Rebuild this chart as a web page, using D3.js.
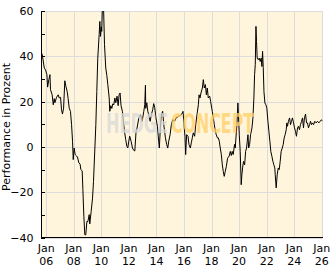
<!DOCTYPE html>
<html><head><meta charset="utf-8">
<script src="https://cdn.jsdelivr.net/npm/d3@7"></script>
<style>html,body{margin:0;padding:0;background:#fff;}svg{display:block;}</style>
</head><body>
<script>
// Data: decimal year and performance (%)
const years = [2005.61,2005.71,2005.86,2005.95,2006.05,2006.10,2006.19,2006.27,2006.31,2006.43,2006.51,2006.58,2006.63,2006.75,2006.87,2006.94,2007.04,2007.11,2007.18,2007.26,2007.35,2007.43,2007.52,2007.59,2007.67,2007.76,2007.84,2007.91,2007.96,2008.03,2008.10,2008.20,2008.27,2008.37,2008.46,2008.51,2008.61,2008.66,2008.73,2008.80,2008.87,2008.95,
2009.02,2009.12,2009.16,2009.26,2009.36,2009.43,2009.50,2009.60,2009.67,2009.74,2009.84,2009.89,2009.94,2009.99,2010.03,2010.08,2010.15,2010.23,2010.32,2010.40,2010.47,2010.57,2010.61,2010.69,2010.76,2010.83,2010.90,2010.98,2011.05,2011.14,2011.22,2011.29,2011.36,2011.43,2011.53,2011.60,2011.68,2011.77,2011.85,2011.92,2011.99,2012.06,2012.16,2012.26,2012.35,
2012.43,2012.52,2012.59,2012.72,2012.84,2012.96,2013.08,2013.15,2013.20,2013.22,2013.30,2013.37,2013.44,2013.54,2013.63,2013.73,2013.80,2013.87,2013.96,2014.07,2014.16,2014.21,2014.28,2014.36,2014.45,2014.53,2014.65,2014.74,2014.82,2014.89,2014.99,2015.08,2015.18,2015.32,2015.42,2015.61,2015.81,
2015.93,2016.00,2016.07,2016.12,2016.19,2016.29,2016.36,2016.46,2016.53,2016.60,2016.67,2016.77,2016.85,2016.94,2017.04,2017.09,2017.16,2017.23,2017.33,2017.40,2017.47,2017.55,2017.62,2017.69,2017.76,2017.86,2017.93,2018.01,2018.05,2018.13,2018.20,2018.27,2018.34,2018.42,2018.49,2018.56,2018.63,2018.71,2018.78,2018.85,2018.92,2018.99,2019.07,
2019.16,2019.28,2019.36,2019.43,2019.50,2019.57,2019.67,2019.72,2019.77,2019.84,2019.91,2019.96,2020.01,2020.08,2020.15,2020.20,2020.25,2020.32,2020.40,2020.47,2020.54,2020.59,2020.64,2020.69,2020.76,2020.83,2020.93,2021.00,2021.07,2021.12,2021.17,2021.22,2021.26,2021.31,2021.39,2021.46,2021.53,2021.60,2021.65,2021.70,2021.75,2021.80,2021.87,2021.94,2022.01,2022.09,2022.16,2022.23,2022.30,2022.38,2022.45,2022.52,2022.59,
2022.62,2022.69,2022.76,2022.84,2022.91,2022.98,2023.05,2023.13,2023.20,2023.27,2023.34,2023.42,2023.46,2023.51,2023.58,2023.66,2023.73,2023.80,2023.87,2023.95,2024.02,2024.09,2024.16,2024.24,2024.31,2024.38,2024.45,2024.53,2024.60,2024.67,2024.74,2024.82,2024.89,2024.96,2025.03,2025.11,2025.18,2025.25,2025.32,2025.40,2025.49,2025.59,2025.69,2025.78,2025.88,2025.98,2026.05];
const perf = [42.2,40.7,34.8,34.0,31.9,26.4,29.7,31.9,25.3,23.0,18.6,21.3,19.5,21.9,23.0,21.6,21.9,16.4,14.5,17.1,29.2,26.7,24.5,21.3,17.1,15.7,9.8,2.5,-5.6,-0.5,-3.4,-4.0,-4.5,-7.1,-7.6,-10.0,-10.6,-18.9,-30.6,-38.8,-38.8,-32.9,
-33.0,-29.9,-34.0,-28.5,-22.6,-15.2,-4.9,9.8,24.5,39.2,49.5,55.4,48.8,53.0,51.0,63.0,64.0,45.1,34.8,31.5,27.5,21.6,15.7,18.2,17.0,19.0,18.5,21.6,19.5,22.4,18.2,23.0,23.8,18.2,15.7,11.3,6.9,3.2,0.3,-0.5,2.5,4.7,2.5,-0.5,-1.5,
-1.8,6.9,8.3,12.8,14.2,11.3,15.7,18.6,27.2,17.0,19.5,15.7,14.2,11.3,14.2,16.5,19.1,17.5,12.8,9.1,2.5,-0.5,8.3,14.2,15.7,9.8,4.0,1.1,-0.5,2.5,5.4,9.8,12.0,11.3,12.8,13.5,14.2,
15.7,9.8,4.7,-3.4,5.4,4.7,1.1,-0.5,1.8,4.0,6.2,4.7,9.8,14.2,18.6,23.0,21.6,23.8,26.0,29.7,26.0,27.5,23.0,26.0,21.6,22.4,20.1,17.1,15.7,12.8,9.8,6.9,5.4,4.0,4.0,2.5,-0.5,-3.4,-7.9,-10.9,-13.0,-10.9,-8.7,
-5.0,-4.0,-2.0,-3.8,-2.0,-3.4,1.1,-0.5,4.0,9.8,19.4,12.8,5.4,-2.0,-16.7,-12.3,-9.3,-6.4,-7.9,-2.0,-0.5,2.5,5.4,-0.5,1.1,5.4,8.4,12.8,21.6,31.9,36.3,53.2,46.6,39.2,38.5,39.2,37.7,39.2,35.5,42.2,35.0,24.5,19.4,18.6,17.1,11.3,6.9,2.5,-2.0,-4.2,-6.4,-7.9,-9.3,
-12.3,-18.1,-12.3,-9.3,-10.0,-6.4,-2.0,-0.5,1.1,4.0,5.4,7.6,10.6,9.1,11.3,12.8,9.8,11.3,12.8,10.6,8.4,6.9,4.7,8.4,9.1,7.6,9.8,11.3,12.8,8.4,12.8,14.5,10.6,10.6,8.4,9.8,11.3,9.8,10.6,9.8,11.3,10.6,11.3,10.6,11.3,12.0,11.3];
const xTickYears = [2006,2008,2010,2012,2014,2016,2018,2020,2022,2024,2026];
const yTicksMajor = [-40,-20,0,20,40,60];
const yTicksMinor = [-40,-30,-20,-10,0,10,20,30,40,50,60];
const yTitle = "Performance in Prozent";

function dec(y){const yr=Math.floor(y);const a=Date.UTC(yr,0,1),b=Date.UTC(yr+1,0,1);return new Date(a+(y-yr)*(b-a));}
const data = years.map((y,i)=>({d:dec(y),v:perf[i]}));

const W=332,H=269, L=41, R=322.5, T=11, B=237.5;
const svg=d3.select("body").append("svg").attr("width",W).attr("height",H);
const x=d3.scaleUtc().domain([dec(2005.62),dec(2026.05)]).range([L,R]);
const y=d3.scaleLinear().domain([-40,60]).range([B,T]);

svg.append("rect").attr("x",L).attr("y",T).attr("width",R-L).attr("height",B-T).attr("fill","#fff5dc");

const grid=svg.append("g").attr("stroke","#dcdcdc").attr("stroke-width",1);
xTickYears.forEach(t=>{const px=Math.round(x(Date.UTC(t,0,1)))+0.5;grid.append("line").attr("x1",px).attr("x2",px).attr("y1",T).attr("y2",B);});
yTicksMajor.forEach(t=>{const py=Math.round(y(t))+0.5;grid.append("line").attr("x1",L).attr("x2",R).attr("y1",py).attr("y2",py);});
grid.append("line").attr("x1",R).attr("x2",R).attr("y1",T).attr("y2",B);

svg.append("defs").append("clipPath").attr("id","clip").append("rect").attr("x",L).attr("y",T).attr("width",R-L).attr("height",B-T);

const line=d3.line().x(d=>x(d.d)).y(d=>y(d.v));
svg.append("path").datum(data).attr("d",line).attr("fill","none").attr("stroke","#000").attr("stroke-width",1).attr("clip-path","url(#clip)");

// watermark
const wm=svg.append("g").attr("transform","translate(106,133) scale(1,1.45)")
  .attr("font-family","'DejaVu Sans Condensed','DejaVu Sans',sans-serif").attr("font-weight","bold").attr("font-size",18).attr("fill-opacity",0.75);
wm.append("text").attr("x",0).attr("y",0).attr("textLength",62).attr("lengthAdjust","spacingAndGlyphs").attr("fill","#d8d8d8").text("HEDGE");
wm.append("text").attr("x",65).attr("y",0).attr("textLength",83).attr("lengthAdjust","spacingAndGlyphs").attr("fill","#ffcf66").text("CONCEPT");

// axes
const yAxis=d3.axisLeft(y).tickValues(yTicksMajor).tickSize(0).tickPadding(8).tickFormat(d3.format("d"));
const ga=svg.append("g").attr("transform",`translate(${L+0.5},0)`).call(yAxis);
ga.select(".domain").remove();
ga.selectAll("text").attr("font-family","'DejaVu Sans',sans-serif").attr("font-size",11).attr("fill","#000");
const yt=svg.append("g").attr("stroke","#000");
yTicksMinor.forEach(t=>{const py=Math.round(y(t))+0.5;yt.append("line").attr("x1",L).attr("x2",L+4).attr("y1",py).attr("y2",py);});
svg.append("line").attr("x1",L+0.5).attr("x2",L+0.5).attr("y1",T).attr("y2",B+0.5).attr("stroke","#000");
svg.append("line").attr("x1",L).attr("x2",R+0.5).attr("y1",B).attr("y2",B).attr("stroke","#000");

const xl=svg.append("g").attr("font-family","'DejaVu Sans',sans-serif").attr("font-size",11).attr("text-anchor","middle");
xTickYears.forEach(t=>{const px=x(Date.UTC(t,0,1));
  const tx=xl.append("text").attr("x",px).attr("y",252);
  tx.append("tspan").attr("x",px).text("Jan");
  tx.append("tspan").attr("x",px).attr("dy",13).text(String(t%100).padStart(2,"0"));
});

svg.append("text").attr("transform","translate(10,127) rotate(-90)").attr("text-anchor","middle").attr("font-family","'DejaVu Sans',sans-serif").attr("font-size",11).text(yTitle);
</script>
</body></html>
